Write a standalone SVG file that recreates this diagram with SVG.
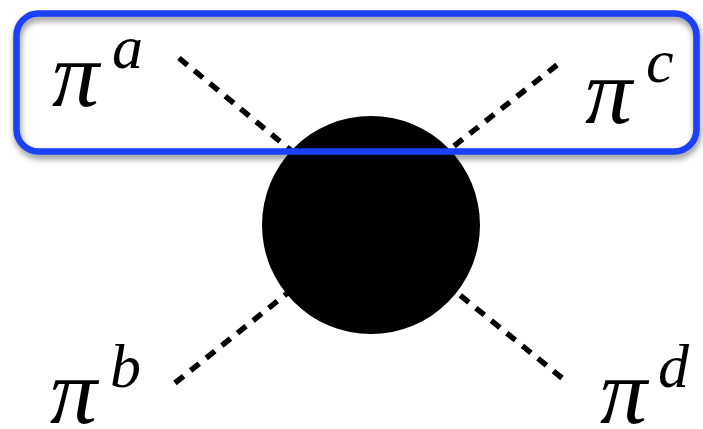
<svg xmlns="http://www.w3.org/2000/svg" width="703" height="429" viewBox="0 0 703 429">
<style>
.leg{stroke:#000;stroke-width:5.5;stroke-dasharray:11 9;fill:none}
</style>
<defs>
<filter id="sh" x="-5%" y="-10%" width="110%" height="130%">
<feDropShadow dx="1" dy="4" stdDeviation="3" flood-color="#000" flood-opacity="0.45"/>
</filter>
</defs>
<rect width="703" height="429" fill="#fff"/>
<g id="connectors">
<line class="leg" x1="179" y1="58" x2="300" y2="158"/>
<line class="leg" x1="557" y1="65" x2="440" y2="157"/>
<line class="leg" x1="175" y1="383" x2="295" y2="287"/>
<line class="leg" x1="562" y1="378" x2="445" y2="283"/>
</g>
<g id="blob"><circle cx="371" cy="225" r="109" fill="#000"/></g>
<g id="group-box"><rect x="16.5" y="13.5" width="680" height="138" rx="22" ry="22" fill="none" stroke="#1a3ff5" stroke-width="6.5" filter="url(#sh)"/></g>
<g font-family="Liberation Serif, serif" font-style="italic" fill="#000">
<g id="pi-a"><text font-size="94" x="52" y="106">π</text><text font-size="62" x="112" y="68">a</text></g>
<g id="pi-c"><text font-size="94" x="585" y="123">π</text><text font-size="62" x="646" y="82">c</text></g>
<g id="pi-b"><text font-size="94" x="50" y="423">π</text><text font-size="62" x="110" y="387">b</text></g>
<g id="pi-d"><text font-size="94" x="600" y="423">π</text><text font-size="62" x="658" y="387">d</text></g>
</g>
</svg>
